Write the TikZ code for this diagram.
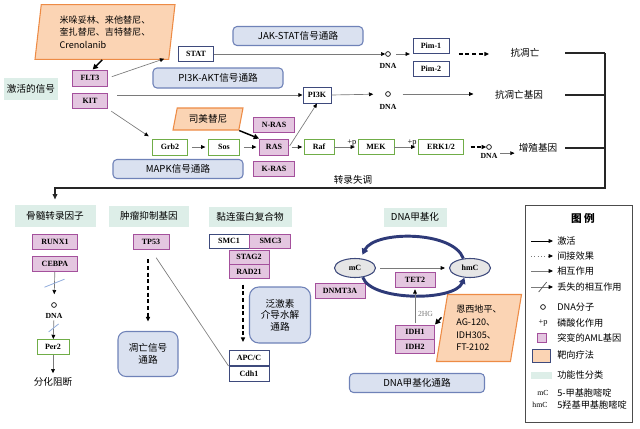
\documentclass[tikz,border=0pt]{standalone}
\usepackage{fontspec}
\setmainfont{Liberation Serif}
\newfontfamily\cjk{Noto Sans CJK SC}
\usetikzlibrary{arrows.meta, positioning, shapes.geometric}

\definecolor{genefill}{HTML}{E4C6E0}
\definecolor{genedraw}{HTML}{A4509C}
\definecolor{navyline}{HTML}{3E4A7C}
\definecolor{leaf}{HTML}{70AD47}
\definecolor{pathfill}{HTML}{DAE1F0}
\definecolor{pathdraw}{HTML}{6F82B8}
\definecolor{catfill}{HTML}{DDEEE8}
\definecolor{drugfill}{HTML}{FBD4B4}
\definecolor{drugdraw}{HTML}{ED8B45}
\definecolor{linkgray}{HTML}{7A7A7A}
\definecolor{slashblue}{HTML}{8EAADB}
\definecolor{cyclenavy}{HTML}{2E3A78}
\definecolor{ovalfill}{HTML}{E6E6E6}

\newcommand\cnfont{\cjk\fontsize{7.2}{8.6}\selectfont}
\newcommand\drugfont{\cjk\fontsize{6.8}{9.4}\selectfont}
\newcommand\legfont{\cjk\fontsize{6.9}{8}\selectfont}
\newcommand\genefont{\bfseries\fontsize{6}{7}\selectfont}
\newcommand\tinyserif{\fontsize{5.8}{6}\selectfont}

\tikzset{
    gene/.style={draw=genedraw, fill=genefill, line width=0.7pt, font=\genefont,
        inner sep=0pt, minimum height=11.25pt, minimum width=#1},
    gene/.default=27pt,
    protein/.style={gene=#1, draw=navyline, fill=white},
    protein/.default=27pt,
    kinase/.style={gene=#1, draw=leaf, fill=white},
    kinase/.default=27pt,
    category/.style={fill=catfill, font=\cnfont, inner sep=0pt},
    pathway/.style={draw=pathdraw, fill=pathfill, rounded corners=3pt, line width=0.8pt,
        font=\cnfont, inner sep=0pt},
    drug/.style={trapezium, trapezium stretches body, draw=drugdraw, fill=drugfill,
        line width=0.8pt, font=\drugfont, align=left, inner sep=1pt},
    oval/.style={ellipse, draw=navyline, fill=ovalfill, line width=0.8pt, font=\genefont,
        inner sep=0pt, minimum width=30.75pt, minimum height=14.25pt},
    dna/.style={circle, draw=black, fill=white, line width=0.5pt, inner sep=0pt, minimum size=3.6pt},
    dnalabel/.style={font=\bfseries\tinyserif, inner sep=0pt},
    plabel/.style={font=\fontsize{6.3}{6.3}\selectfont, inner sep=0.5pt},
    hglabel/.style={font=\tinyserif, inner sep=0pt},
    result/.style={font=\cnfont, inner sep=0pt},
    legtext/.style={font=\legfont, inner sep=0pt, anchor=west},
    link/.style={draw=linkgray, line width=0.5pt, -{Triangle[length=3.2pt,width=2.8pt,color=black]}},
    dashlink/.style={draw=black, line width=0.9pt, dash pattern=on 3pt off 2pt,
        -{Triangle[length=3.5pt,width=3pt]}},
    drugarrow/.style={draw=black, line width=1.1pt, -{Triangle[length=4pt,width=4pt]}},
    thinline/.style={draw=linkgray, line width=0.5pt},
    bracketline/.style={draw=black!85, line width=0.9pt},
    cutmark/.style={draw=slashblue, line width=0.6pt},
    cyclearc/.style={draw=cyclenavy, line width=2.2pt, -{Triangle[length=4.5pt,width=5pt]}}
}

\begin{document}
\begin{tikzpicture}[x=0.75pt, y=-0.75pt]
    \useasboundingbox (0,0) rectangle (640,429);

    % receptors
    \node[category, minimum width=40.5pt, minimum height=16.5pt] (signal) at (31,89) {激活的信号};
    \node[gene=26.25pt, minimum height=12pt] (FLT3) at (90,78) {FLT3};
    \node[gene=26.25pt] (KIT) at (90,101) {KIT};
    \node[drug, trapezium left angle=80, trapezium right angle=100, minimum width=105pt,
        minimum height=41pt] (drugFLT) at (105,32) {米哚妥林、来他替尼、\\奎扎替尼、吉特替尼、\\Crenolanib};
    \draw[drugarrow] ([xshift=-2pt]drugFLT.south) -- ([xshift=2pt]FLT3.north);

    % JAK-STAT
    \node[pathway, minimum width=97.5pt, minimum height=14.25pt] (jakstat) at (298,36) {JAK-STAT信号通路};
    \node[protein=26.25pt] (STAT) at (196,54) {STAT};
    \node[dna] (dnaA) at (388,54) {};
    \node[dnalabel] (dnaAlab) at (388,66) {DNA};
    \node[protein] (Pim1) at (431,46) {Pim-1};
    \node[protein] (Pim2) at (431,69) {Pim-2};
    \node[result] (antiapop) at (525,53) {抗凋亡};
    \draw[link, shorten <=3pt, shorten >=11pt] (FLT3.east) -- (STAT.west);
    \draw[link] (STAT.east) -- (dnaA.west);
    \draw[link, shorten <=4pt, shorten >=2pt] (dnaA.east) -- (dnaA -| Pim1.west);
    \draw[dashlink, shorten <=7pt, shorten >=16pt] (dnaA -| Pim1.east) -- (antiapop.west |- dnaA);

    % PI3K-AKT
    \node[pathway, minimum width=97.5pt, minimum height=15pt] (pi3kakt) at (218,78) {PI3K-AKT信号通路};
    \node[protein=21pt, minimum height=12pt] (PI3K) at (317,95) {PI3K};
    \node[dna] (dnaB) at (388,94) {};
    \node[dnalabel] (dnaBlab) at (388,107) {DNA};
    \node[result] (antigene) at (519,95) {抗凋亡基因};
    \draw[link, shorten <=7pt] (PI3K.west -| KIT.east) -- (PI3K.west);
    \draw[link, shorten >=9pt] (PI3K.east) -- (dnaB.west);
    \draw[link, shorten <=9pt, shorten >=16pt] (dnaB.east) -- (antigene.west |- dnaB);

    % MAPK
    \node[kinase=26.25pt, minimum height=12pt] (Grb2) at (170,147) {Grb2};
    \node[kinase=23.25pt, minimum height=12pt] (Sos) at (224,147) {Sos};
    \node[gene=21.75pt, minimum height=12pt] (RAS) at (274,147) {RAS};
    \node[gene=30.75pt] (NRAS) at (274,125) {N-RAS};
    \node[gene=30.75pt] (KRAS) at (274,169) {K-RAS};
    \node[kinase=22.5pt] (Raf) at (319,147) {Raf};
    \node[kinase=27pt] (MEK) at (376,147) {MEK};
    \node[kinase=33.75pt] (ERK) at (441,147) {ERK1/2};
    \node[dna] (dnaC) at (489,147) {};
    \node[dnalabel] (dnaClab) at (489,156) {DNA};
    \node[result] (prolif) at (538,148) {增殖基因};
    \node[pathway, minimum width=97.5pt, minimum height=14.25pt] (mapk) at (178,169) {MAPK信号通路};
    \node[drug, trapezium left angle=70, trapezium right angle=110, minimum width=52.5pt,
        minimum height=16.5pt, font=\cnfont] (drugRAS) at (208,119) {司美替尼};
    \node[result] (dysreg) at (353,180) {转录失调};
    \draw[link, shorten <=3pt, shorten >=3pt] (KIT.south east) -- (Grb2.north west);
    \draw[link, shorten <=3pt, shorten >=2pt] (Grb2) -- (Sos);
    \draw[link, shorten <=3pt, shorten >=2pt] (Sos) -- (RAS);
    \draw[link, shorten <=2pt, shorten >=1pt] (RAS) -- (Raf);
    \draw[link, shorten <=1pt] (RAS.east) -- (PI3K.south);
    \draw[link, shorten >=2pt] (Raf) -- node[pos=0.75, above, plabel] {+p} (MEK);
    \draw[link, shorten >=2pt] (MEK) -- node[pos=0.75, above, plabel] {+p} (ERK);
    \draw[dashlink, shorten <=5pt] (ERK) -- (dnaC);
    \draw[link, shorten <=2pt, shorten >=3pt] (dnaClab.north east) -- (prolif.west |- dnaClab.north east);
    \draw[drugarrow] (drugRAS.bottom right corner) -- (RAS.north west);

    % transcription bracket
    \node[category, minimum width=60.75pt, minimum height=16.5pt] (bone) at (55,216) {骨髓转录因子};
    \coordinate (bracketL) at (565,0);
    \coordinate (bracketR) at (605,188);
    \draw[bracketline] (antiapop -| bracketL) -- (antiapop -| bracketR);
    \draw[bracketline] (antigene -| bracketL) -- (antigene -| bracketR);
    \draw[bracketline] (prolif -| bracketL) -- (prolif -| bracketR);
    \draw[bracketline, -{Triangle[length=4pt,width=3.5pt]}, shorten >=4pt]
        (antiapop -| bracketR) -- (bracketR) -| (bone.north);

    % bone marrow factors
    \node[gene=33.75pt] (RUNX1) at (55,242) {RUNX1};
    \node[gene=33.75pt] (CEBPA) at (55,264) {CEBPA};
    \node[dna] (dnaD) at (54,305) {};
    \node[dnalabel] (dnaDlab) at (54,316) {DNA};
    \node[kinase=24pt] (Per2) at (53,347) {Per2};
    \node[result] (block) at (53,382) {分化阻断};
    \draw[link, shorten >=6pt] (CEBPA) -- coordinate[pos=0.37] (cutA) (dnaD);
    \draw[cutmark] (cutA) ++(-10,4) -- ++(20,-8);
    \draw[link, shorten <=1pt] (dnaDlab) -- coordinate[pos=0.45] (cutB) (Per2);
    \draw[cutmark] (cutB) ++(-5,4) -- ++(10,-8);
    \draw[link, shorten >=3pt] (Per2) -- (block);

    % tumour suppressor
    \node[category, minimum width=60pt, minimum height=15.75pt] (tumor) at (149,216) {肿瘤抑制基因};
    \node[gene=27pt] (TP53) at (151,242) {TP53};
    \node[pathway, minimum width=45pt, minimum height=33.75pt, rounded corners=6pt,
        align=center] (apop) at (148,354) {凋亡信号\\通路};
    \draw[dashlink, shorten <=7pt, shorten >=7pt] (TP53.south -| apop.north) -- (apop.north);

    % cohesin
    \node[category, minimum width=62.25pt, minimum height=15pt] (cohesin) at (250,217) {黏连蛋白复合物};
    \node[protein=30pt, minimum height=10.5pt] (SMC1) at (229,241) {SMC1};
    \node[gene=30.75pt, minimum height=10.5pt, anchor=west] (SMC3) at (SMC1.east) {SMC3};
    \node[gene=30pt, minimum height=10.5pt] (STAG2) at (249,257) {STAG2};
    \node[gene=30pt, minimum height=10.5pt, anchor=north] (RAD21) at (STAG2.south) {RAD21};
    \node[pathway, minimum width=45.75pt, minimum height=42pt, rounded corners=7pt,
        align=center] (ubiq) at (280,315) {泛激素\\介导水解\\通路};
    \node[protein=30pt] (APC) at (249,358) {APC/C};
    \node[protein=30pt, anchor=north] (Cdh1) at (APC.south) {Cdh1};
    \draw[dashlink, shorten <=4pt, shorten >=6pt] ([xshift=-4.5pt]RAD21.south) -- ([xshift=-4.5pt]APC.north);
    \draw[thinline, shorten <=7pt] (TP53.south) -- (APC.south west);

    % DNA methylation
    \node[category, minimum width=47.25pt, minimum height=14.25pt] (methyl) at (415,217) {DNA甲基化};
    \node[oval] (mC) at (355,268) {mC};
    \node[oval] (hmC) at (470,268) {hmC};
    \node[gene=30pt] (TET2) at (415,280) {TET2};
    \node[gene=37.5pt] (DNMT3A) at (340,291) {DNMT3A};
    \node[gene=29.25pt, minimum height=10.5pt] (IDH1) at (415,332) {IDH1};
    \node[gene=29.25pt, minimum height=10.5pt, anchor=north] (IDH2) at (IDH1.south) {IDH2};
    \node[drug, trapezium left angle=77, trapezium right angle=103, minimum width=63.75pt,
        minimum height=50.25pt] (drugIDH) at (479,328) {恩西地平、\\AG-120、\\IDH305、\\FT-2102};
    \node[pathway, minimum width=101.25pt, minimum height=14.25pt] (methylpath) at (417,383) {DNA甲基化通路};
    \draw[link, shorten <=3pt, shorten >=3pt] (mC) -- (hmC);
    \draw[cyclearc, shorten >=3pt] (hmC.125) .. controls +(-10,-28) and +(14,-28) .. (mC.60);
    \draw[cyclearc] (mC.-50) .. controls +(8,24) and +(-10,24) .. (hmC.-120);
    \draw[link, shorten <=1pt, shorten >=1pt] (IDH1) -- node[pos=0.3, right=2pt, hglabel, text=linkgray] {2HG} (TET2);
    \draw[drugarrow] ([yshift=8pt]drugIDH.west) -- (IDH1.north east);

    % legend
    \node[draw=black!70, line width=0.6pt, minimum width=80.25pt, minimum height=162.75pt] (legend) at (578.5,313.5) {};
    \node[font=\cjk\bfseries\fontsize{8}{8}\selectfont] (legtitle) at (583,218) {图\ 例};
    \foreach \y/\txt in {241/激活, 256/间接效果, 271/相互作用, 287/丢失的相互作用, 307/DNA分子,
        323/磷酸化作用, 338/突变的AML基因, 355/靶向疗法, 375/功能性分类, 393/5-甲基胞嘧啶, 405/5羟基甲基胞嘧啶}
        \node[legtext] (leg\y) at (557,\y) {\txt};
    \draw[link, draw=black, shorten >=3pt] (531,241) -- (leg241.west);
    \draw[link, dotted, shorten >=3pt] (531,256) -- (leg256.west);
    \draw[link, shorten >=3pt] (531,271) -- (leg271.west);
    \draw[link, shorten >=3pt] (531,287) -- coordinate[pos=0.45] (cutL) (leg287.west);
    \draw[thinline, draw=black!70] (cutL) ++(-4,5) -- ++(8,-10);
    \node[dna] (legdna) at (543,307) {};
    \node[plabel] (legp) at (543,323) {+p};
    \node[gene, minimum width=6.75pt, minimum height=6.75pt] (leggene) at (542,338) {};
    \node[drug, draw=navyline, trapezium left angle=70, trapezium right angle=110, minimum width=14pt,
        minimum height=9.5pt, inner sep=0pt] (legdrug) at (541.5,356) {};
    \node[category, minimum width=15.75pt, minimum height=5.25pt] (legcat) at (541.5,375) {};
    \node[hglabel] (legmC) at (543,393) {mC};
    \node[hglabel] (leghmC) at (540,405) {hmC};
\end{tikzpicture}
\end{document}
